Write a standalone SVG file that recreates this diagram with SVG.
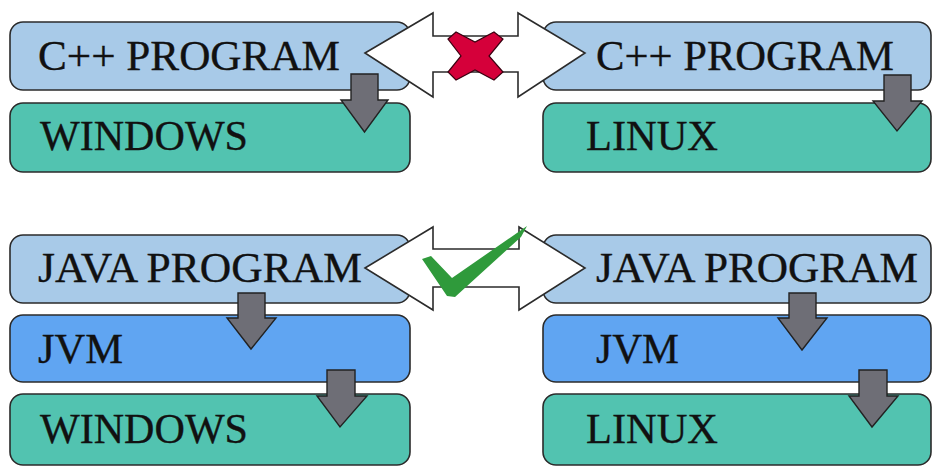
<svg xmlns="http://www.w3.org/2000/svg" width="932" height="467" viewBox="0 0 932 467">
<style>
.box{stroke:#2b2b2b;stroke-width:1.6}
.prog{fill:#a8cae8}
.os{fill:#52c3b0}
.jvm{fill:#60a5f2}
.lbl{font-family:"Liberation Serif","Times New Roman",serif;font-size:43px;fill:#111;stroke:#111;stroke-width:0.35}
.down{fill:#6e6e76;stroke:#222;stroke-width:1.4;stroke-linejoin:miter}
.dbl{fill:#ffffff;stroke:#2b2b2b;stroke-width:1.6;stroke-linejoin:miter}
</style>
<rect width="932" height="467" fill="#ffffff"/>
<g id="cpp-left"><rect class="box prog" x="10" y="22" width="400" height="68" rx="13"/><text class="lbl" x="38" y="70" textLength="302" lengthAdjust="spacingAndGlyphs">C++ PROGRAM</text></g>
<g id="win-top"><rect class="box os" x="10" y="103" width="400" height="69" rx="13"/><text class="lbl" x="40" y="150" textLength="208" lengthAdjust="spacingAndGlyphs">WINDOWS</text></g>
<g id="cpp-right"><rect class="box prog" x="543" y="22" width="388" height="68" rx="13"/><text class="lbl" x="596" y="70" textLength="298" lengthAdjust="spacingAndGlyphs">C++ PROGRAM</text></g>
<g id="linux-top"><rect class="box os" x="543" y="103" width="388" height="69" rx="13"/><text class="lbl" x="586" y="150" textLength="132" lengthAdjust="spacingAndGlyphs">LINUX</text></g>
<g id="java-left"><rect class="box prog" x="10" y="235" width="400" height="68" rx="13"/><text class="lbl" x="38" y="282" textLength="324" lengthAdjust="spacingAndGlyphs">JAVA PROGRAM</text></g>
<g id="jvm-left"><rect class="box jvm" x="10" y="315" width="400" height="67" rx="13"/><text class="lbl" x="38" y="363" textLength="85" lengthAdjust="spacingAndGlyphs">JVM</text></g>
<g id="win-bottom"><rect class="box os" x="10" y="394" width="400" height="71" rx="13"/><text class="lbl" x="40" y="443" textLength="208" lengthAdjust="spacingAndGlyphs">WINDOWS</text></g>
<g id="java-right"><rect class="box prog" x="543" y="235" width="388" height="68" rx="13"/><text class="lbl" x="596" y="282" textLength="322" lengthAdjust="spacingAndGlyphs">JAVA PROGRAM</text></g>
<g id="jvm-right"><rect class="box jvm" x="543" y="315" width="388" height="67" rx="13"/><text class="lbl" x="596" y="363" textLength="83" lengthAdjust="spacingAndGlyphs">JVM</text></g>
<g id="linux-bottom"><rect class="box os" x="543" y="394" width="388" height="71" rx="13"/><text class="lbl" x="586" y="443" textLength="132" lengthAdjust="spacingAndGlyphs">LINUX</text></g>
<g id="connectors">
<polygon class="down" points="351,74 378,74 378,100 388,100 364.5,132 341,100 351,100"/>
<polygon class="down" points="884,75 911,75 911,101 922,101 897,131 873,101 884,101"/>
<polygon class="down" points="238,293 265,293 265,318 276,318 251,349 227,318 238,318"/>
<polygon class="down" points="327,370 355,370 355,396 367,396 340,427 317,396 327,396"/>
<polygon class="down" points="789,293 816,293 816,318 827,318 802,350 778,318 789,318"/>
<polygon class="down" points="859,370 887,370 887,396 898,396 872,427 849,396 859,396"/>
<polygon class="dbl" points="365,53 433,13 433,36 518,36 518,13 585,53 518,97 518,72 433,72 433,97"/>
<polygon class="dbl" points="365,268 433,227 433,249 519,249 519,227 585,268 519,310 519,287 433,287 433,310"/>
<polygon fill="#d5003a" stroke="#3a0010" stroke-width="1.2" points="448,39 456,32 475,42 494,32 503,39 489,56 503,72 494,80 475,70 456,80 448,72 461,56"/>
<polygon fill="#2f9a3b" points="422,259 431,256 452,278 527,226 521,237 455,297 447,296"/>
</g>
</svg>
